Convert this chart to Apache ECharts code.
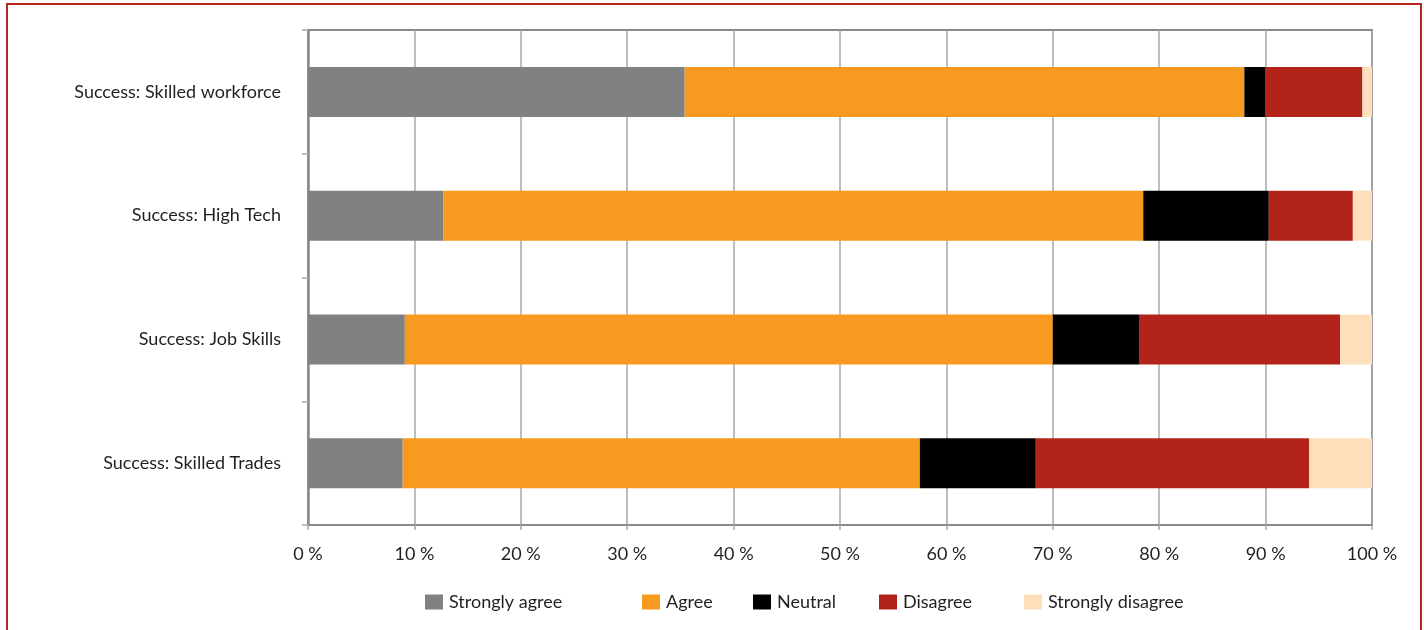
<!DOCTYPE html>
<html>
<head>
<meta charset="utf-8">
<script src="https://cdn.jsdelivr.net/npm/echarts@6/dist/echarts.min.js"></script>
<style>
html,body{margin:0;padding:0;background:#fff;}
#chart{width:1424px;height:630px;}
#frame{position:absolute;left:6px;top:3px;width:1416px;height:700px;box-sizing:border-box;border:2px solid #b5261e;pointer-events:none;}
</style>
</head>
<body>
<div id="chart"></div>
<div id="frame"></div>
<script>
const categories = ['Success: Skilled workforce', 'Success: High Tech', 'Success: Job Skills', 'Success: Skilled Trades'];
const seriesNames = ['Strongly agree', 'Agree', 'Neutral', 'Disagree', 'Strongly disagree'];
const stronglyAgree = [35.4, 12.7, 9.1, 8.9];
const agree = [52.6, 65.8, 60.9, 48.6];
const neutral = [2.0, 11.8, 8.1, 10.9];
const disagree = [9.1, 7.9, 18.9, 25.7];
const stronglyDisagree = [0.9, 1.8, 3.0, 5.9];
const xTicks = [0, 10, 20, 30, 40, 50, 60, 70, 80, 90, 100];

const colors = ['#808183', '#f89a1f', '#000000', '#b22419', '#fddfbc'];
const values = [stronglyAgree, agree, neutral, disagree, stronglyDisagree];
const legendLeft = [420, 637, 748, 874, 1019];
const font = 'Lato, "Open Sans", sans-serif';

const chart = echarts.init(document.getElementById('chart'));
chart.setOption({
  animation: false,
  grid: { left: 308, right: 52, top: 30, bottom: 105, show: true, borderColor: '#8a8a8a', borderWidth: 2, containLabel: false },
  legend: seriesNames.map((n, i) => ({
    data: [n], left: legendLeft[i], top: 588, itemWidth: 18, itemHeight: 15, itemGap: 0,
    icon: 'rect', textStyle: { fontFamily: font, fontSize: 18, color: '#231f20', padding: [0, 0, 0, 1] }
  })),
  xAxis: {
    type: 'value', min: xTicks[0], max: xTicks[xTicks.length - 1], interval: 10,
    axisLabel: { formatter: '{value} %', fontFamily: font, fontSize: 18, color: '#231f20', margin: 20 },
    axisLine: { show: true, lineStyle: { color: '#8a8a8a', width: 2 } },
    axisTick: { show: true, length: 5, lineStyle: { color: '#aaaaaa', width: 1.5 } },
    splitLine: { show: true, lineStyle: { color: '#a8a8a8', width: 1.5 } }
  },
  yAxis: {
    type: 'category', data: categories, inverse: true,
    axisLabel: { fontFamily: font, fontSize: 18, color: '#231f20', margin: 27 },
    axisLine: { show: true, lineStyle: { color: '#8a8a8a', width: 2.5 } },
    axisTick: { show: true, length: 6, lineStyle: { color: '#aaaaaa', width: 1.5 } },
    splitLine: { show: false }
  },
  series: seriesNames.map((n, i) => ({
    name: n, type: 'bar', stack: 'total', data: values[i], barWidth: 50,
    itemStyle: { color: colors[i] }
  }))
});
</script>
</body>
</html>
